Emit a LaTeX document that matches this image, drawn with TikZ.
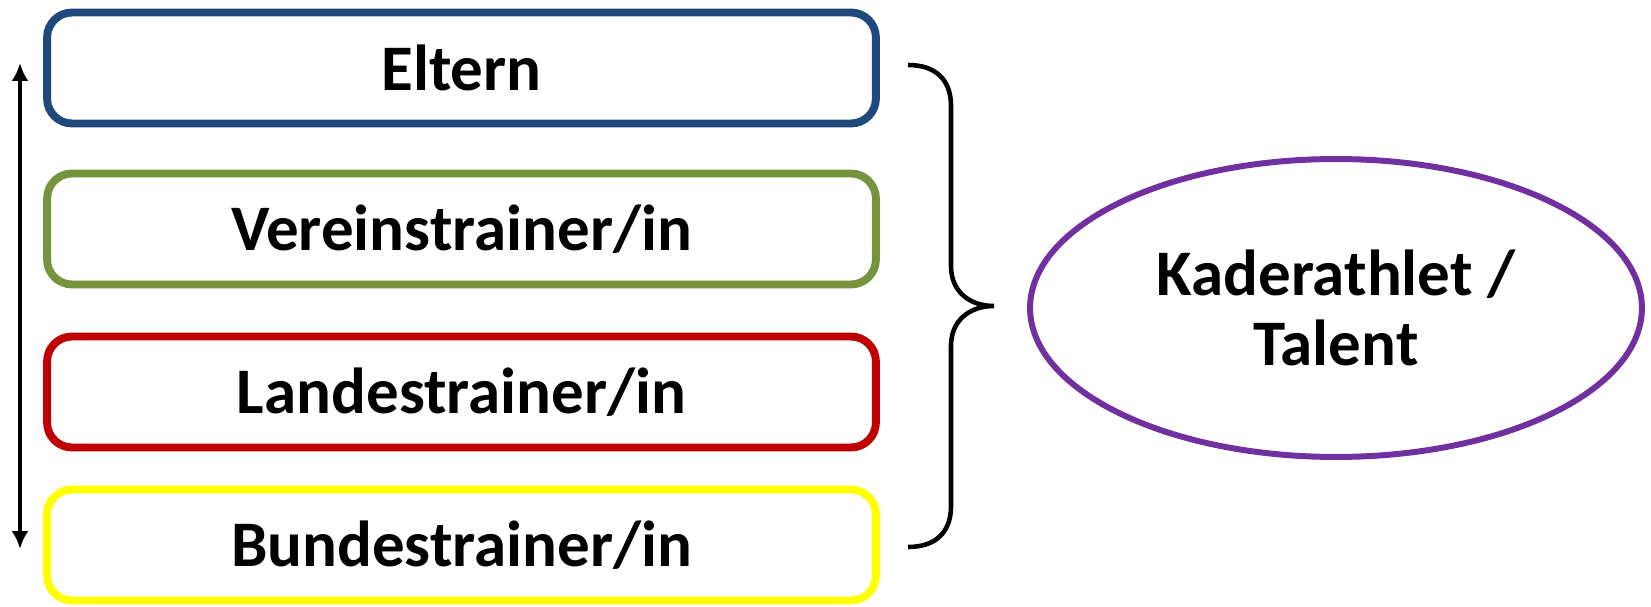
\documentclass[tikz,border=0pt]{standalone}
\usepackage{fontspec}
\setmainfont{Carlito}
\usetikzlibrary{shapes.geometric,arrows.meta}
\definecolor{elternblue}{HTML}{1F497D}
\definecolor{vereingreen}{HTML}{77933C}
\definecolor{landesred}{HTML}{C00000}
\definecolor{bundesyellow}{HTML}{FFFF00}
\definecolor{athletpurple}{HTML}{7030A0}
\begin{document}
\begin{tikzpicture}[x=0.02cm,y=-0.02cm]
		\tikzstyle box_style=[draw,rounded corners=0.5cm,line width=4.5pt,minimum width=16.58cm,minimum height=2.22cm,inner sep=0pt,font=\fontsize{37}{40}\selectfont\bfseries];
		\useasboundingbox (0,0) rectangle (1651,607);

		% BOXES
		\node[box_style,draw=elternblue] (eltern) at (461.5,68) {Eltern};
		\node[box_style,draw=vereingreen] (verein) at (461.5,229) {Vereinstrainer/in};
		\node[box_style,draw=landesred] (landes) at (461.5,392) {Landestrainer/in};
		\node[box_style,draw=bundesyellow] (bundes) at (461.5,545) {Bundestrainer/in};

		% ARROW
		\coordinate (arrow_top) at (20,63);
		\coordinate (arrow_bottom) at (20,549);
		\draw[{Latex[length=0.36cm,width=0.34cm]}-{Latex[length=0.36cm,width=0.34cm]},line width=2.1pt] (arrow_top) -- (arrow_bottom);

		% BRACE
		\coordinate (brace_top) at (908,65);
		\coordinate (brace_tip) at (994,306);
		\coordinate (brace_bottom) at (908,547);
		\draw[line width=2.6pt] (brace_top) .. controls (936,65) and (951,80) .. (951,106)
			-- (951,266) .. controls (951,292) and (970,306) .. (brace_tip)
			.. controls (970,306) and (951,320) .. (951,346)
			-- (951,506) .. controls (951,532) and (936,547) .. (brace_bottom);

		% ATHLETE
		\node[ellipse,draw=athletpurple,line width=3.4pt,minimum width=12.24cm,minimum height=5.96cm,inner sep=0pt,align=center,font=\fontsize{37}{40}\selectfont\bfseries] (athlet) at (1336,308) {Kaderathlet /\\Talent};
\end{tikzpicture}
\end{document}
